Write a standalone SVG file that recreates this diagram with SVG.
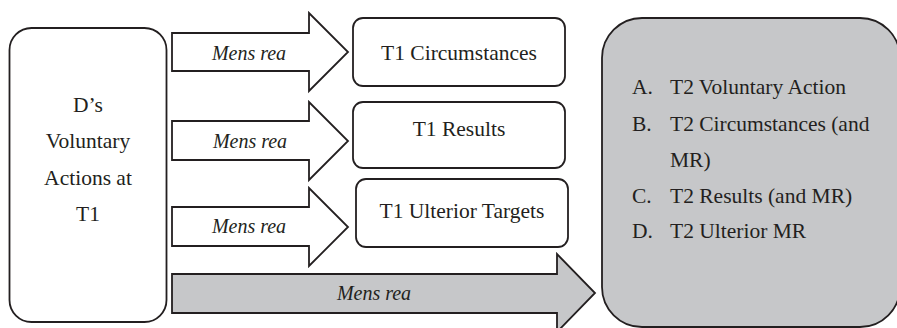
<svg xmlns="http://www.w3.org/2000/svg" width="897" height="328" viewBox="0 0 897 328">
<style>
.ln{stroke:#231f20;stroke-width:1.8;stroke-linejoin:miter}
.w{fill:#ffffff}
.g{fill:#c6c7c9}
text{font-family:"Liberation Serif","Times New Roman",serif;font-size:21.5px;fill:#231f20}
.it{font-style:italic;font-size:20px}
.c{text-anchor:middle}
</style>
<rect width="897" height="328" fill="#ffffff"/>
<g id="connectors">
<g id="arrow1">
<path class="ln w" d="M172,33 H309 V13 L348,52 L309,91 V71 H172 Z"/>
<text class="it c" x="249" y="60">Mens rea</text>
</g>
<g id="arrow2">
<path class="ln w" d="M172,121 H309 V102 L348,141 L309,180 V160 H172 Z"/>
<text class="it c" x="250" y="148">Mens rea</text>
</g>
<g id="arrow3">
<path class="ln w" d="M172,207 H309 V188 L348,227 L309,266 V246 H172 Z"/>
<text class="it c" x="249" y="233">Mens rea</text>
</g>
<g id="arrow4">
<path class="ln g" d="M172,274 H557 V254 L595,293 L557,332 V313 H172 Z"/>
<text class="it c" x="374" y="300">Mens rea</text>
</g>
</g>
<g id="node-d">
<rect class="ln w" x="9.5" y="28" width="157" height="294" rx="22"/>
<text class="c" x="88" y="112">D’s</text>
<text class="c" x="88" y="148">Voluntary</text>
<text class="c" x="88" y="185">Actions at</text>
<text class="c" x="88" y="221">T1</text>
</g>
<g id="node-circ">
<rect class="ln w" x="353" y="18" width="212" height="68" rx="10"/>
<text class="c" x="459" y="60">T1 Circumstances</text>
</g>
<g id="node-results">
<rect class="ln w" x="353" y="102" width="212" height="66" rx="10"/>
<text class="c" x="459" y="136">T1 Results</text>
</g>
<g id="node-ulterior">
<rect class="ln w" x="356" y="179" width="212" height="68" rx="10"/>
<text class="c" x="462" y="218">T1 Ulterior Targets</text>
</g>
<g id="node-t2">
<rect class="ln g" x="602" y="18" width="298" height="309" rx="40"/>
<text x="632" y="94">A.</text><text x="670" y="94">T2 Voluntary Action</text>
<text x="632" y="131">B.</text><text x="670" y="131">T2 Circumstances (and</text>
<text x="670" y="167">MR)</text>
<text x="632" y="203">C.</text><text x="670" y="203">T2 Results (and MR)</text>
<text x="632" y="238">D.</text><text x="670" y="238">T2 Ulterior MR</text>
</g>
</svg>
